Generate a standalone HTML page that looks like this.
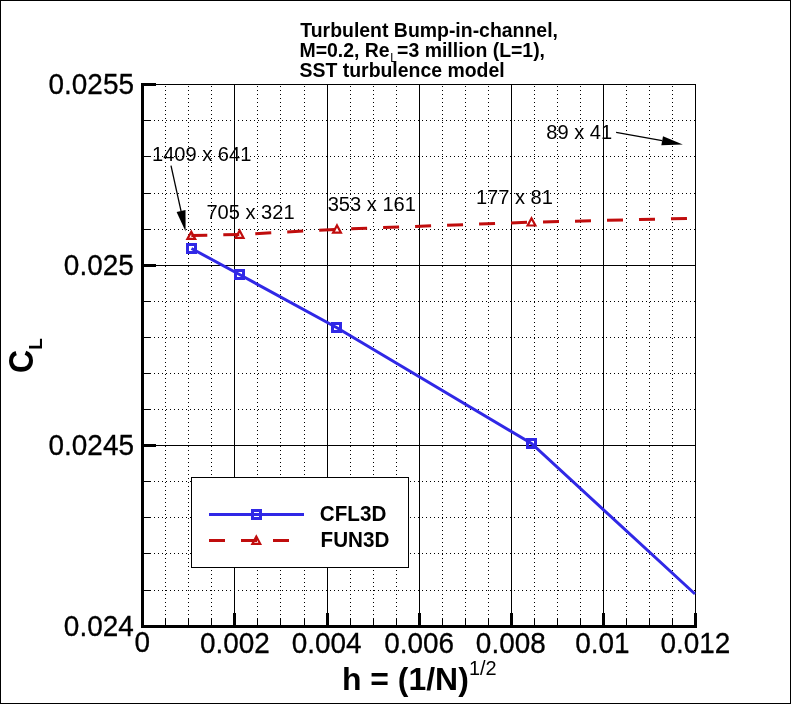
<!DOCTYPE html>
<html><head><meta charset="utf-8"><style>
html,body{margin:0;padding:0;background:#fff;width:791px;height:704px;overflow:hidden}
svg{display:block;will-change:transform}
text{font-family:"Liberation Sans",sans-serif}
</style></head><body>
<svg width="791" height="704" viewBox="0 0 791 704">
<rect x="0.5" y="0.5" width="790" height="703" fill="#fff" stroke="#000" stroke-width="1" shape-rendering="crispEdges"/>
<path d="M165.5 86V626 M188.5 86V626 M211.5 86V626 M257.5 86V626 M280.5 86V626 M304.5 86V626 M350.5 86V626 M373.5 86V626 M396.5 86V626 M442.5 86V626 M465.5 86V626 M488.5 86V626 M534.5 86V626 M557.5 86V626 M580.5 86V626 M626.5 86V626 M649.5 86V626 M672.5 86V626 M146 120.5H695 M146 156.5H695 M146 193.5H695 M146 229.5H695 M146 301.5H695 M146 337.5H695 M146 373.5H695 M146 409.5H695 M146 481.5H695 M146 517.5H695 M146 553.5H695 M146 590.5H695" stroke="#000" stroke-width="1" stroke-dasharray="1 3" fill="none" shape-rendering="crispEdges"/>
<path d="M234.5 84V626 M327.5 84V626 M419.5 84V626 M511.5 84V626 M603.5 84V626 M142 265.5H695 M142 445.5H695 M142 84.5H695.5 M695.5 84V626" stroke="#000" stroke-width="1" fill="none" shape-rendering="crispEdges"/>
<rect x="141" y="83" width="3" height="545" fill="#000"/>
<rect x="141" y="625" width="556" height="3" fill="#000"/>
<rect x="141" y="83" width="15" height="3" fill="#000"/>
<rect x="141" y="264" width="15" height="3" fill="#000"/>
<rect x="141" y="444" width="15" height="3" fill="#000"/>
<rect x="141" y="625" width="15" height="3" fill="#000"/>
<rect x="141" y="613" width="3" height="15" fill="#000"/>
<rect x="233" y="613" width="3" height="15" fill="#000"/>
<rect x="326" y="613" width="3" height="15" fill="#000"/>
<rect x="418" y="613" width="3" height="15" fill="#000"/>
<rect x="510" y="613" width="3" height="15" fill="#000"/>
<rect x="602" y="613" width="3" height="15" fill="#000"/>
<rect x="694" y="613" width="3" height="15" fill="#000"/>
<path d="M141 120.5H151 M141 156.5H151 M141 193.5H151 M141 229.5H151 M141 301.5H151 M141 337.5H151 M141 373.5H151 M141 409.5H151 M141 481.5H151 M141 517.5H151 M141 553.5H151 M141 590.5H151 M165.5 618V627 M188.5 618V627 M211.5 618V627 M257.5 618V627 M280.5 618V627 M304.5 618V627 M350.5 618V627 M373.5 618V627 M396.5 618V627 M442.5 618V627 M465.5 618V627 M488.5 618V627 M534.5 618V627 M557.5 618V627 M580.5 618V627 M626.5 618V627 M649.5 618V627 M672.5 618V627" stroke="#000" stroke-width="1" fill="none" shape-rendering="crispEdges"/>
<polyline points="191.3,235.6 239.6,234.5 337,229.3 531.5,222.2 695,218.2" stroke="#c00d0d" stroke-width="3" fill="none" stroke-dasharray="16 16"/>
<polyline points="191.5,248.5 239.5,274.5 336.5,327.5 531.5,443.5 695,594" stroke="#3028e6" stroke-width="3" fill="none"/>
<rect x="187.5" y="244.5" width="8" height="8" stroke="#3028e6" stroke-width="3" fill="none"/>
<rect x="235.5" y="270.5" width="8" height="8" stroke="#3028e6" stroke-width="3" fill="none"/>
<rect x="332.5" y="323.5" width="8" height="8" stroke="#3028e6" stroke-width="3" fill="none"/>
<rect x="527.5" y="439.5" width="8" height="8" stroke="#3028e6" stroke-width="3" fill="none"/>
<polygon points="191.3,231.7 195.20000000000002,238.9 187.4,238.9" stroke="#c00d0d" stroke-width="2.2" fill="none" stroke-linejoin="miter"/>
<polygon points="239.6,230.6 243.5,237.8 235.7,237.8" stroke="#c00d0d" stroke-width="2.2" fill="none" stroke-linejoin="miter"/>
<polygon points="337,225.4 340.9,232.60000000000002 333.1,232.60000000000002" stroke="#c00d0d" stroke-width="2.2" fill="none" stroke-linejoin="miter"/>
<polygon points="531.5,218.29999999999998 535.4,225.5 527.6,225.5" stroke="#c00d0d" stroke-width="2.2" fill="none" stroke-linejoin="miter"/>
<line x1="171" y1="165.7" x2="181.0576382023765" y2="211.0971477764802" stroke="#000" stroke-width="1.3"/><polygon points="185.6,231.6 176.6,212.1 185.5,210.1" fill="#000"/>
<line x1="616.1" y1="132.3" x2="662.1427076100568" y2="140.72160469029527" stroke="#000" stroke-width="1.3"/><polygon points="682.8,144.5 661.3,145.2 663.0,136.2" fill="#000"/>
<text transform="matrix(0.9969 0 0 1.0512 48.58 94.39)" font-size="28" stroke="#000" stroke-width="0.3" fill="#000">0.0255</text>
<text transform="matrix(0.9969 0 0 1.0512 63.86 274.94)" font-size="28" stroke="#000" stroke-width="0.3" fill="#000">0.025</text>
<text transform="matrix(0.9969 0 0 1.0512 48.58 455.14)" font-size="28" stroke="#000" stroke-width="0.3" fill="#000">0.0245</text>
<text transform="matrix(0.9969 0 0 1.0512 63.86 636.04)" font-size="28" stroke="#000" stroke-width="0.3" fill="#000">0.024</text>
<text transform="matrix(0.9969 0 0 1.0512 134.43 652.29)" font-size="28" stroke="#000" stroke-width="0.3" fill="#000">0</text>
<text transform="matrix(0.9969 0 0 1.0512 199.91 652.59)" font-size="28" stroke="#000" stroke-width="0.3" fill="#000">0.002</text>
<text transform="matrix(0.9969 0 0 1.0512 291.66 652.59)" font-size="28" stroke="#000" stroke-width="0.3" fill="#000">0.004</text>
<text transform="matrix(0.9969 0 0 1.0512 384.16 652.59)" font-size="28" stroke="#000" stroke-width="0.3" fill="#000">0.006</text>
<text transform="matrix(0.9969 0 0 1.0512 475.86 652.59)" font-size="28" stroke="#000" stroke-width="0.3" fill="#000">0.008</text>
<text transform="matrix(0.9969 0 0 1.0512 575.13 652.64)" font-size="28" stroke="#000" stroke-width="0.3" fill="#000">0.01</text>
<text transform="matrix(0.9969 0 0 1.0512 660.51 652.64)" font-size="28" stroke="#000" stroke-width="0.3" fill="#000">0.012</text>
<text transform="matrix(1.0049 0 0 1.0329 152.01 160.88)" font-size="20" fill="#000">1409 x 641</text>
<text transform="matrix(1.0049 0 0 1.0329 206.39 218.63)" font-size="20" fill="#000">705 x 321</text>
<text transform="matrix(1.0049 0 0 1.0329 327.69 210.98)" font-size="20" fill="#000">353 x 161</text>
<text transform="matrix(1.0049 0 0 1.0329 475.91 203.73)" font-size="20" fill="#000">177 x 81</text>
<text transform="matrix(1.0049 0 0 1.0329 546.29 139.08)" font-size="20" fill="#000">89 x 41</text>
<text transform="matrix(0.9726 0 0 1.0167 300.32 37.37)" font-size="20" font-weight="bold" fill="#000">Turbulent Bump-in-channel,</text>
<text transform="matrix(0.9726 0 0 1.0167 299.47 56.67)" font-size="20" font-weight="bold" fill="#000">M=0.2, Re<tspan font-size="12" font-weight="normal" dy="5.5" dx="0.5">L</tspan><tspan dy="-5.5" dx="0.5">=3 million (L=1),</tspan></text>
<text transform="matrix(0.9726 0 0 1.0167 299.54 76.67)" font-size="20" font-weight="bold" fill="#000">SST turbulence model</text>
<text transform="matrix(0.9976 0 0 0.9870 342.00 689.60)" font-size="32" font-weight="bold" fill="#000">h = (1/N)</text>
<text transform="matrix(1.0500 0 0 1.0615 468.95 674.80)" font-size="19" fill="#000">1/2</text>
<text transform="translate(33 373) rotate(-90) scale(1 1.12)" font-size="32" font-weight="bold" fill="#000">C</text>
<text transform="translate(42 349.8) rotate(-90)" font-size="19" font-weight="bold" fill="#000">L</text>
<rect x="191.5" y="477.5" width="217" height="90" fill="#fff" stroke="#000" stroke-width="1" shape-rendering="crispEdges"/>
<line x1="209" y1="514.5" x2="304" y2="514.5" stroke="#3028e6" stroke-width="3"/>
<rect x="252.5" y="510.5" width="8" height="8" stroke="#3028e6" stroke-width="3" fill="none"/>
<line x1="209" y1="540.5" x2="289" y2="540.5" stroke="#c00d0d" stroke-width="3" stroke-dasharray="16 16"/>
<polygon points="256.3,536.6 260.2,543.8 252.4,543.8" stroke="#c00d0d" stroke-width="2.2" fill="none" stroke-linejoin="miter"/>
<text transform="matrix(1.0320 0 0 1.0786 319.86 520.70)" font-size="20" font-weight="bold" fill="#000">CFL3D</text>
<text transform="matrix(1.0320 0 0 1.0786 320.58 547.00)" font-size="20" font-weight="bold" fill="#000">FUN3D</text>
</svg>
</body></html>
